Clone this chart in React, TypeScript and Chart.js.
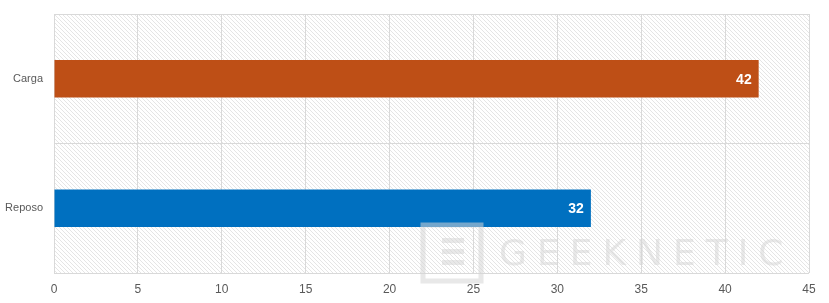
import React, { useEffect, useRef } from "react";
import { Chart, registerables } from "chart.js";

Chart.register(...registerables);

const categories = ["Carga", "Reposo"];
const values = [42, 32];
const barColors = ["#BE4F16", "#0070C0"];
const xTicks = [0, 5, 10, 15, 20, 25, 30, 35, 40, 45];

function makePattern(): CanvasPattern | string {
  const c = document.createElement("canvas");
  c.width = 4;
  c.height = 4;
  const g = c.getContext("2d");
  if (!g) return "#fff";
  g.fillStyle = "#ffffff";
  g.fillRect(0, 0, 4, 4);
  g.strokeStyle = "rgba(190,190,190,0.5)";
  g.lineWidth = 0.8;
  g.beginPath();
  g.moveTo(-1, -1);
  g.lineTo(5, 5);
  g.moveTo(-1, 3);
  g.lineTo(1, 5);
  g.moveTo(3, -1);
  g.lineTo(5, 1);
  g.stroke();
  const p = g.createPattern(c, "repeat");
  return p || "#fff";
}

const bgPlugin = {
  id: "hatchBg",
  beforeDraw(chart: any) {
    const { ctx, chartArea } = chart;
    ctx.save();
    ctx.fillStyle = makePattern();
    ctx.fillRect(chartArea.left, chartArea.top, chartArea.right - chartArea.left, chartArea.bottom - chartArea.top);
    ctx.restore();
  },
};

const labelPlugin = {
  id: "valueLabels",
  afterDatasetsDraw(chart: any) {
    const { ctx } = chart;
    const meta = chart.getDatasetMeta(0);
    ctx.save();
    ctx.fillStyle = "#ffffff";
    ctx.font = "bold 14px 'Liberation Sans', Arial, sans-serif";
    ctx.textAlign = "right";
    ctx.textBaseline = "middle";
    meta.data.forEach((bar: any, i: number) => {
      ctx.fillText(String(values[i]), bar.x - 7, bar.y + 1);
    });
    ctx.restore();
  },
};

const watermarkPlugin = {
  id: "watermark",
  afterDraw(chart: any) {
    const { ctx } = chart;
    ctx.save();
    ctx.globalAlpha = 0.55;
    ctx.strokeStyle = "#d6d6d6";
    ctx.lineWidth = 5;
    ctx.strokeRect(423, 225, 58, 56);
    ctx.fillStyle = "#d6d6d6";
    ctx.fillRect(442, 238, 22, 5);
    ctx.fillRect(442, 249, 22, 5);
    ctx.fillRect(442, 260, 22, 5);
    ctx.font = "36px 'DejaVu Sans', sans-serif";
    ctx.textBaseline = "alphabetic";
    ctx.textAlign = "left";
    (ctx as any).letterSpacing = "10px";
    ctx.fillText("GEEKNETIC", 499, 265);
    ctx.restore();
  },
};

export default function App() {
  const ref = useRef<HTMLCanvasElement | null>(null);
  useEffect(() => {
    document.body.style.margin = "0";
    const canvas = ref.current;
    if (!canvas) return;
    const chart = new Chart(canvas, {
      type: "bar",
      data: {
        labels: categories,
        datasets: [
          {
            data: values,
            backgroundColor: barColors,
            borderWidth: 0,
            barPercentage: 0.58,
            categoryPercentage: 0.5,
          },
        ],
      },
      options: {
        indexAxis: "y",
        animation: false,
        responsive: false,
        maintainAspectRatio: false,
        layout: { padding: { left: 0, right: 20, top: 14, bottom: 0 } },
        plugins: { legend: { display: false }, tooltip: { enabled: false } },
        scales: {
          x: {
            min: 0,
            max: 45,
            afterBuildTicks(scale: any) {
              scale.ticks = xTicks.map((v) => ({ value: v }));
            },
            afterFit(scale: any) {
              scale.height = 30;
              scale.paddingTop = 0;
              scale.paddingBottom = 0;
            },
            grid: { color: "#d9d9d9", lineWidth: 1, drawTicks: false },
            border: { display: false },
            ticks: {
              color: "#595959",
              padding: 9,
              font: { size: 12, family: "'Liberation Sans', Arial, sans-serif" },
            },
          },
          y: {
            afterFit(scale: any) {
              scale.width = 54;
              scale.paddingTop = 0;
              scale.paddingBottom = 0;
            },
            grid: { color: "#d9d9d9", lineWidth: 1, offset: true, drawTicks: false },
            border: { display: true, color: "#d9d9d9" },
            ticks: {
              color: "#595959",
              padding: 11,
              font: { size: 11, family: "'Liberation Sans', Arial, sans-serif" },
            },
          },
        },
      },
      plugins: [bgPlugin, labelPlugin, watermarkPlugin],
    });
    return () => chart.destroy();
  }, []);
  return (
    <div style={{ width: 829, height: 303, position: "relative" }}>
      <canvas ref={ref} width={829} height={303} style={{ display: "block" }} />
    </div>
  );
}
